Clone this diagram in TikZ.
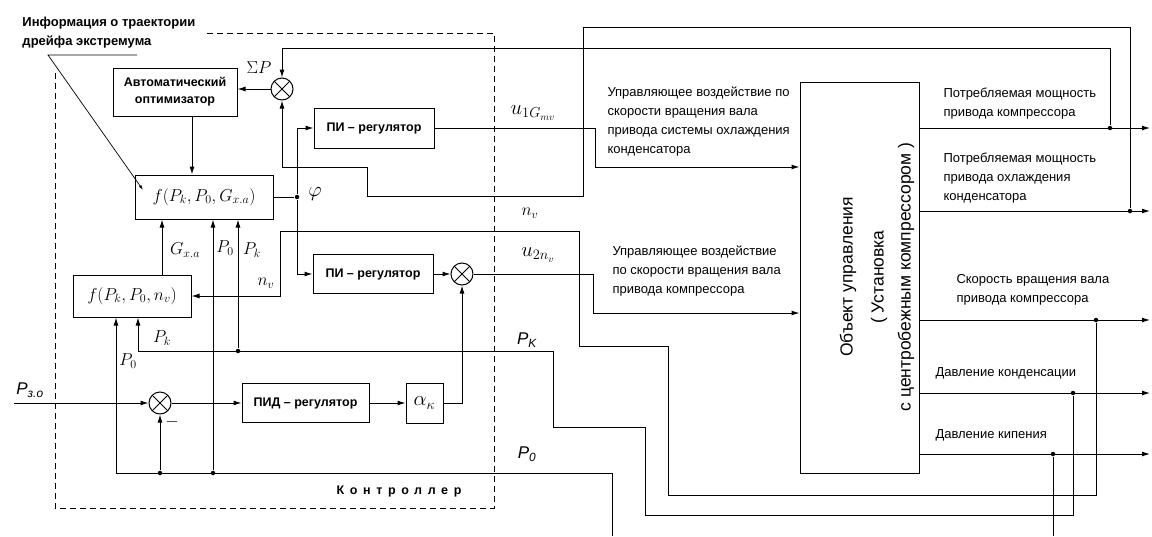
\documentclass[tikz,border=0pt]{standalone}
\usepackage[no-math]{fontspec}
\setmainfont{Liberation Sans}
\usetikzlibrary{arrows.meta,calc}
\tikzset{
  arr/.style={-{Latex[length=8pt,width=5pt]}},
  blk/.style={draw, line width=1pt, inner sep=0pt},
  bl/.style={font=\bfseries\fontsize{12.5}{17}\selectfont, align=center},
  sumnode/.style={circle, draw, line width=1pt, minimum size=22pt, inner sep=0pt,
    path picture={\draw[line width=0.9pt]
      ($(path picture bounding box.center)+(45:11pt)$) -- ($(path picture bounding box.center)+(225:11pt)$)
      ($(path picture bounding box.center)+(135:11pt)$) -- ($(path picture bounding box.center)+(315:11pt)$);}},
  dot/.style={circle, fill, inner sep=0pt, minimum size=4.5pt},
  mlab/.style={font=\fontsize{17}{19}\selectfont, inner sep=0pt},
  txt/.style={font=\fontsize{13}{19}\selectfont, align=left, anchor=west, inner sep=0pt},
  frame/.style={dash pattern=on 6pt off 4pt, line width=0.7pt},
}
\begin{document}
\begin{tikzpicture}[x=1pt, y=-1pt, line width=1pt]
\useasboundingbox (0,0) rectangle (1152,536);

% controller frame (open at top-left where the annotation text sits)
\coordinate (fr1) at (207,33);
\coordinate (fr2) at (494,33);
\coordinate (fr3) at (494,508);
\coordinate (fr4) at (55,508);
\coordinate (fr5) at (55,73);
\draw[frame] (fr1) -- (fr2) -- (fr3) -- (fr4) -- (fr5);
\node[font=\bfseries\fontsize{12.5}{15}\selectfont\addfontfeature{LetterSpace=45}] (ctrllab) at (399,491) {Контроллер};

% blocks
\node[blk, bl, minimum width=124pt, minimum height=48pt] (opt) at (175,92) {Автоматический\\оптимизатор};
\node[blk, minimum width=138pt, minimum height=44pt, font=\fontsize{17}{20}\selectfont] (fG) at (204,197) {$f(P_k,P_0,G_{x.a})$};
\node[blk, minimum width=118pt, minimum height=42pt, font=\fontsize{17}{20}\selectfont] (fn) at (132,296) {$f(P_k,P_0,n_v)$};
\node[blk, bl, minimum width=120pt, minimum height=40pt] (pi1) at (374,128) {ПИ – регулятор};
\node[blk, bl, minimum width=120pt, minimum height=39pt] (pi2) at (373,274) {ПИ – регулятор};
\node[blk, bl, minimum width=127pt, minimum height=39pt] (pid) at (305.5,403) {ПИД – регулятор};
\node[blk, minimum width=37pt, minimum height=40pt, font=\fontsize{20}{22}\selectfont] (alpha) at (424.5,403) {$\alpha_\kappa$};
\node[blk, minimum width=119pt, minimum height=391pt] (obj) at (859.5,277.5) {};
\node[rotate=90, align=center, font=\fontsize{17.5}{27}\selectfont] (objtxt) at (877,277) {Объект управления\\[4pt]( Установка\\с центробежным компрессором )};

% summing junctions
\node[sumnode] (s1) at (282,89) {};
\node[sumnode] (s2) at (462,274) {};
\node[sumnode] (s3) at (160,403) {};

% junction dots
\node[dot] (jphi) at (297,197) {};
\node[dot] (jpk) at (238,351) {};
\node[dot] (jp0a) at (160,473) {};
\node[dot] (jp0b) at (213,473) {};
\node[dot] (j1) at (1110,128) {};
\node[dot] (j2) at (1130,211) {};
\node[dot] (j3) at (1096,320) {};
\node[dot] (j4) at (1073,393) {};
\node[dot] (j5) at (1053,454) {};

% coordinates
\coordinate (o1) at (1150,128);
\coordinate (o2) at (1150,211);
\coordinate (o3) at (1150,320);
\coordinate (o4) at (1150,393);
\coordinate (o5) at (1150,454);
\coordinate (in1) at (700,167);
\coordinate (in2) at (700,313);
\coordinate (pin) at (14,403);
\coordinate (b1) at (612,536);
\coordinate (b2) at (1053,536);
\coordinate (an1) at (137,55);
\coordinate (an2) at (48,55);
\coordinate (an3) at (143,190);

% outputs of object
\draw[arr] (obj.east |- o1) -- (o1);
\draw[arr] (obj.east |- o2) -- (o2);
\draw[arr] (obj.east |- o3) -- (o3);
\draw[arr] (obj.east |- o4) -- (o4);
\draw[arr] (obj.east |- o5) -- (o5);

% feedback Sigma P
\draw[arr] (j1) -- (1110,48) -| (s1.north);
\draw[arr] (j2) |- (583,27) |- (367,196) |- (282,167) -- (s1.south);
\draw[arr] (s1.west) -- (s1.west -| opt.east);
\draw[arr] ([xshift=17pt]opt.south) -- ([xshift=17pt]opt.south |- fG.north);

% phi
\draw (fG.east) -- (jphi);
\draw[arr] (jphi) |- (pi1.west);
\draw[arr] (jphi) |- (pi2.west);

% controls to object
\draw[arr] (pi1.east) -- (595,128) |- (obj.west |- in1);
\draw[arr] (pi2.east) -- (s2.west);
\draw[arr] (s2.east) -- (593,274) |- (obj.west |- in2);

% P_zo loop
\draw[arr] (pin) -- (s3.west);
\draw[arr] (s3.east) -- (pid.west);
\draw[arr] (pid.east) -- (alpha.west);
\draw[arr] (alpha.east) -| (s2.south);

% P_0 feedback
\draw[arr] (b1) |- (116,473) -- (fn.south -| 116,0);
\draw[arr] (jp0a) -- (s3.south);
\draw[arr] (jp0b) -- (jp0b |- fG.south);
\draw (j5) -- (b2);

% P_K feedback
\draw[arr] (j4) |- (645,515) |- (553,427) |- (138,351) -- (fn.south -| 138,0);
\draw[arr] (jpk) -- (jpk |- fG.south);

% n_v feedback
\draw[arr] (j3) |- (668,495) |- (579,346) |- (280,231) |- (fn.east);

% fn -> fG
\draw[arr] ([xshift=30pt]fn.north) -- ([xshift=30pt]fn.north |- fG.south);

% annotation
\draw[-{Latex[length=5pt,width=3pt]}, line width=0.7pt] (an1) -- (an2) -- (an3);
\node[anchor=north west, inner sep=0pt, align=left, font=\bfseries\fontsize{13}{19}\selectfont] (info) at (22,17) {Информация о траектории\\дрейфа экстремума};

% math labels
\node[mlab] (lsp) at (259,68) {$\Sigma P$};
\node[mlab, font=\fontsize{20}{22}\selectfont] (lphi) at (315,194) {$\varphi$};
\node[mlab] (lgxa) at (185,250) {$G_{x.a}$};
\node[mlab] (lp0a) at (225,248) {$P_0$};
\node[mlab] (lpka) at (252,250) {$P_k$};
\node[mlab] (lnva) at (266,283) {$n_v$};
\node[mlab] (lpkb) at (162,338) {$P_k$};
\node[mlab] (lp0b) at (128,361) {$P_0$};
\node[mlab] (lminus) at (172,422) {$-$};
\node[font=\itshape\fontsize{17}{19}\selectfont, inner sep=0pt] (lpzo) at (30,390) {P\textsubscript{з.о}};
\node[mlab, font=\fontsize{20}{22}\selectfont] (lu1) at (533,113) {$u_{1G_{mv}}$};
\node[mlab] (lnvb) at (530,213) {$n_v$};
\node[mlab, font=\fontsize{20}{22}\selectfont] (lu2) at (538,255) {$u_{2n_v}$};
\node[font=\itshape\fontsize{17}{19}\selectfont, inner sep=0pt] (lpkc) at (527,340) {P\textsubscript{K}};
\node[font=\itshape\fontsize{17}{19}\selectfont, inner sep=0pt] (lp0c) at (527,454) {P\textsubscript{0}};

% text labels
\node[txt] (t1) at (607,121.5) {Управляющее воздействие по\\скорости вращения вала\\привода системы охлаждения\\конденсатора};
\node[txt] (t2) at (612,271) {Управляющее воздействие\\по скорости вращения вала\\привода компрессора};
\node[txt] (t3) at (943,103.5) {Потребляемая мощность\\привода компрессора};
\node[txt] (t4) at (943,178.5) {Потребляемая мощность\\привода охлаждения\\конденсатора};
\node[txt] (t5) at (956,290) {Скорость вращения вала\\привода компрессора};
\node[txt] (t6) at (935,373) {Давление конденсации};
\node[txt] (t7) at (935,435) {Давление кипения};
\end{tikzpicture}
\end{document}
